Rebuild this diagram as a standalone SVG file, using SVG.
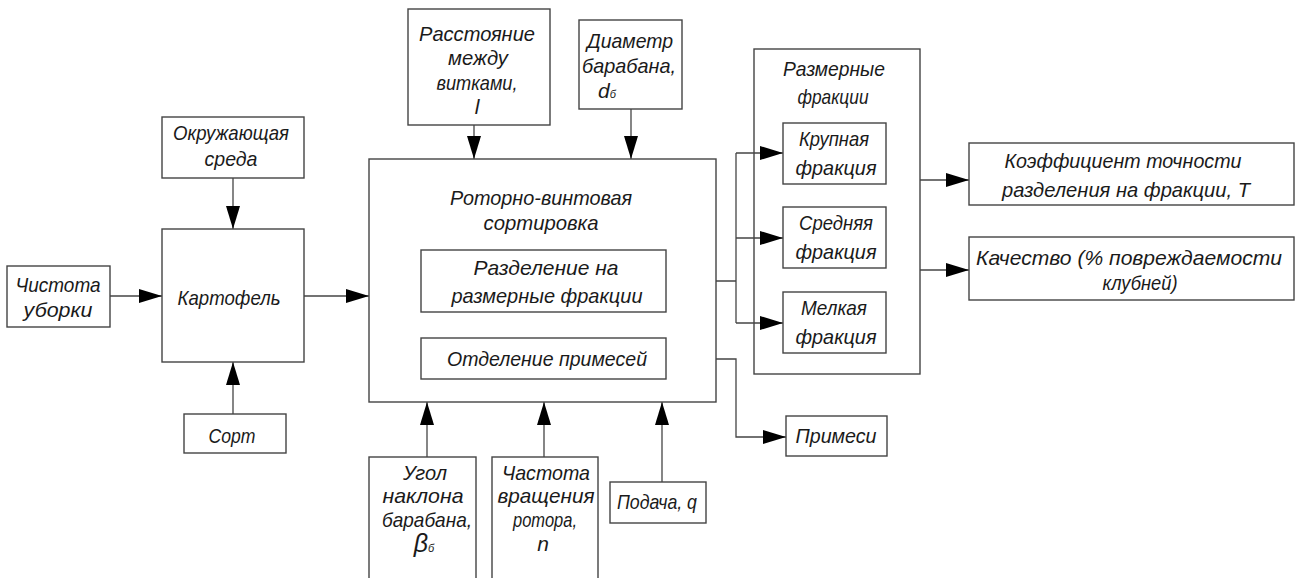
<svg xmlns="http://www.w3.org/2000/svg" width="1298" height="578" viewBox="0 0 1298 578">
<style>
.b{fill:#fff;stroke:#444;stroke-width:1.4}
.o{fill:none;stroke:#444;stroke-width:1.4}
.c{fill:none;stroke:#444;stroke-width:1.3}
.t{font-family:"Liberation Sans",Arial,sans-serif;font-style:italic;font-size:21px;fill:#1a1a1a;text-anchor:middle}
</style>
<defs>
<marker id="ah" markerUnits="userSpaceOnUse" markerWidth="24" markerHeight="14" refX="23" refY="7" orient="auto">
<path d="M0,0 L23,7 L0,14 z" fill="#000"/>
</marker>
</defs>
<rect width="1298" height="578" fill="#fff"/>

<g id="connectors">
<line class="c" x1="233" y1="178" x2="233" y2="229" marker-end="url(#ah)"/>
<line class="c" x1="110" y1="296" x2="162" y2="296" marker-end="url(#ah)"/>
<line class="c" x1="233" y1="414" x2="233" y2="362" marker-end="url(#ah)"/>
<line class="c" x1="304" y1="296" x2="369" y2="296" marker-end="url(#ah)"/>
<line class="c" x1="474" y1="125" x2="474" y2="159" marker-end="url(#ah)"/>
<line class="c" x1="631" y1="109" x2="631" y2="159" marker-end="url(#ah)"/>
<line class="c" x1="427" y1="457" x2="427" y2="402" marker-end="url(#ah)"/>
<line class="c" x1="544" y1="457" x2="544" y2="402" marker-end="url(#ah)"/>
<line class="c" x1="662" y1="482" x2="662" y2="402" marker-end="url(#ah)"/>
<polyline class="c" points="666,281 736,281"/>
<polyline class="c" points="736,153 736,323"/>
<line class="c" x1="736" y1="153" x2="783" y2="153" marker-end="url(#ah)"/>
<line class="c" x1="736" y1="238" x2="783" y2="238" marker-end="url(#ah)"/>
<line class="c" x1="736" y1="323" x2="783" y2="323" marker-end="url(#ah)"/>
<polyline class="c" points="666,359 736,359 736,437 786,437" marker-end="url(#ah)"/>
<line class="c" x1="920" y1="180" x2="969" y2="180" marker-end="url(#ah)"/>
<line class="c" x1="920" y1="270" x2="969" y2="270" marker-end="url(#ah)"/>
</g>

<g id="env">
<rect class="b" x="162" y="117" width="142" height="61"/>
<text class="t" x="231" y="140" textLength="116" lengthAdjust="spacingAndGlyphs">Окружающая</text>
<text class="t" x="231" y="166" textLength="53" lengthAdjust="spacingAndGlyphs">среда</text>
</g>

<g id="clean">
<rect class="b" x="7" y="266" width="103" height="61"/>
<text class="t" x="58" y="292" textLength="85" lengthAdjust="spacingAndGlyphs">Чистота</text>
<text class="t" x="58" y="317" textLength="69" lengthAdjust="spacingAndGlyphs">уборки</text>
</g>

<g id="potato">
<rect class="b" x="162" y="229" width="142" height="133"/>
<text class="t" x="229" y="305" textLength="103" lengthAdjust="spacingAndGlyphs">Картофель</text>
</g>

<g id="sort">
<rect class="b" x="184" y="414" width="102" height="39"/>
<text class="t" x="232" y="443" textLength="47" lengthAdjust="spacingAndGlyphs">Сорт</text>
</g>

<g id="distance">
<rect class="b" x="408" y="9" width="142" height="116"/>
<text class="t" x="477" y="41" textLength="116" lengthAdjust="spacingAndGlyphs">Расстояние</text>
<text class="t" x="478" y="65" textLength="60" lengthAdjust="spacingAndGlyphs">между</text>
<text class="t" x="477" y="90" textLength="81" lengthAdjust="spacingAndGlyphs">витками,</text>
<text class="t" x="477" y="114">l</text>
</g>

<g id="diameter">
<rect class="b" x="579" y="20" width="103" height="89"/>
<text class="t" x="630" y="48" textLength="86" lengthAdjust="spacingAndGlyphs">Диаметр</text>
<text class="t" x="629" y="73" textLength="94" lengthAdjust="spacingAndGlyphs">барабана,</text>
<text class="t" x="607" y="98">d<tspan font-size="11">б</tspan></text>
</g>

<g id="rotor">
<rect class="b" x="369" y="159" width="347" height="243"/>
<text class="t" x="541" y="205" textLength="182" lengthAdjust="spacingAndGlyphs">Роторно-винтовая</text>
<text class="t" x="541" y="230" textLength="115" lengthAdjust="spacingAndGlyphs">сортировка</text>
</g>

<g id="separation">
<rect class="b" x="421" y="250" width="245" height="62"/>
<text class="t" x="546" y="275" textLength="145" lengthAdjust="spacingAndGlyphs">Разделение на</text>
<text class="t" x="547" y="303" textLength="191" lengthAdjust="spacingAndGlyphs">размерные фракции</text>
</g>

<g id="impurity-sep">
<rect class="b" x="421" y="338" width="245" height="41"/>
<text class="t" x="547" y="366" textLength="200" lengthAdjust="spacingAndGlyphs">Отделение примесей</text>
</g>

<g id="angle">
<rect class="b" x="369" y="457" width="107" height="130"/>
<text class="t" x="425" y="480" textLength="44" lengthAdjust="spacingAndGlyphs">Угол</text>
<text class="t" x="423" y="503" textLength="81" lengthAdjust="spacingAndGlyphs">наклона</text>
<text class="t" x="427" y="527" textLength="90" lengthAdjust="spacingAndGlyphs">барабана,</text>
<text class="t" x="424" y="552"><tspan font-size="25">β</tspan><tspan font-size="11">б</tspan></text>
</g>

<g id="frequency">
<rect class="b" x="492" y="457" width="106" height="130"/>
<text class="t" x="546" y="480" textLength="88" lengthAdjust="spacingAndGlyphs">Частота</text>
<text class="t" x="546" y="503" textLength="97" lengthAdjust="spacingAndGlyphs">вращения</text>
<text class="t" x="545" y="527" textLength="64" lengthAdjust="spacingAndGlyphs">ротора,</text>
<text class="t" x="543" y="551">n</text>
</g>

<g id="feed">
<rect class="b" x="610" y="482" width="96" height="41"/>
<text class="t" x="657" y="509" textLength="80" lengthAdjust="spacingAndGlyphs">Подача, q</text>
</g>

<g id="fractions">
<rect class="o" x="754" y="49" width="166" height="325"/>
<text class="t" x="834" y="76" textLength="102" lengthAdjust="spacingAndGlyphs">Размерные</text>
<text class="t" x="833" y="104" textLength="71" lengthAdjust="spacingAndGlyphs">фракции</text>
</g>

<g id="large">
<rect class="b" x="783" y="123" width="103" height="61"/>
<text class="t" x="834" y="146" textLength="70" lengthAdjust="spacingAndGlyphs">Крупная</text>
<text class="t" x="836" y="175" textLength="81" lengthAdjust="spacingAndGlyphs">фракция</text>
</g>

<g id="medium">
<rect class="b" x="783" y="207" width="103" height="61"/>
<text class="t" x="836" y="230" textLength="74" lengthAdjust="spacingAndGlyphs">Средняя</text>
<text class="t" x="836" y="259" textLength="81" lengthAdjust="spacingAndGlyphs">фракция</text>
</g>

<g id="small">
<rect class="b" x="783" y="292" width="103" height="61"/>
<text class="t" x="834" y="315" textLength="66" lengthAdjust="spacingAndGlyphs">Мелкая</text>
<text class="t" x="836" y="344" textLength="81" lengthAdjust="spacingAndGlyphs">фракция</text>
</g>

<g id="impurities">
<rect class="b" x="786" y="416" width="101" height="40"/>
<text class="t" x="836" y="443" textLength="81" lengthAdjust="spacingAndGlyphs">Примеси</text>
</g>

<g id="coef">
<rect class="b" x="969" y="143" width="325" height="62"/>
<text class="t" x="1123" y="168" textLength="237" lengthAdjust="spacingAndGlyphs">Коэффициент точности</text>
<text class="t" x="1126" y="197" textLength="248" lengthAdjust="spacingAndGlyphs">разделения на фракции, T</text>
</g>

<g id="quality">
<rect class="b" x="969" y="237" width="325" height="63"/>
<text class="t" x="1129" y="265" textLength="306" lengthAdjust="spacingAndGlyphs">Качество (% повреждаемости</text>
<text class="t" x="1140" y="290" textLength="75" lengthAdjust="spacingAndGlyphs">клубней)</text>
</g>
</svg>
